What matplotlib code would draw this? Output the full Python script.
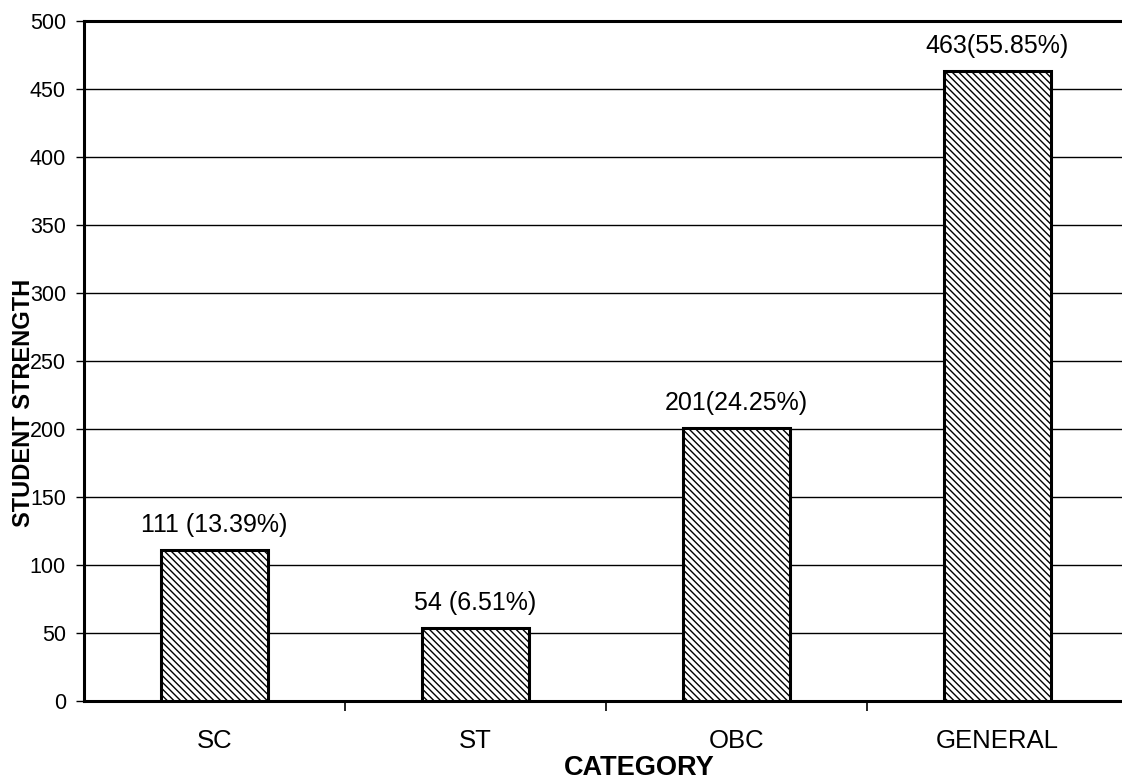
import matplotlib
matplotlib.use("Agg")
import matplotlib.pyplot as plt
import numpy as np

categories = ["SC", "ST", "OBC", "GENERAL"]
values = [111, 54, 201, 463]
labels = ["111 (13.39%)", "54 (6.51%)", "201(24.25%)", "463(55.85%)"]
yticks = [0, 50, 100, 150, 200, 250, 300, 350, 400, 450, 500]

plt.rcParams['font.family'] = ['Liberation Sans', 'DejaVu Sans']
plt.rcParams['hatch.linewidth'] = 1.0

fig = plt.figure(figsize=(11.22, 7.81), dpi=100)
ax = fig.add_axes([0.0749, 0.1024, 0.93, 0.871])

x = np.arange(len(categories))
bars = ax.bar(x, values, width=0.41, facecolor='white', edgecolor='black',
              linewidth=2.2, hatch='\\\\\\\\\\', zorder=3)
for xi, v, lab in zip(x, values, labels):
    ax.annotate(lab, (xi, v), xytext=(0, 18), textcoords='offset points',
                ha='center', va='center', fontsize=18)

ax.set_xlim(-0.5, len(categories) - 0.5)
ax.set_ylim(0, 500)
ax.set_yticks(yticks)
ax.set_xticks(x)
ax.set_xticklabels(categories, fontsize=18.5)
ax.set_xticks(np.arange(len(categories) - 1) + 0.5, minor=True)
ax.tick_params(axis='x', which='major', length=0, pad=20)
ax.tick_params(axis='x', which='minor', length=7, width=1.2, direction='out')
ax.tick_params(axis='y', labelsize=15.5, length=6, width=1.0, direction='out', pad=7)
ax.yaxis.grid(True, color='black', linewidth=1.0, zorder=0)
ax.set_axisbelow(True)

for s in ['left', 'bottom']:
    ax.spines[s].set_linewidth(2.2)
ax.spines['top'].set_linewidth(2.2)
ax.spines['right'].set_visible(False)

fig.text(0.021, 0.484, "STUDENT STRENGTH", rotation=90, ha='center', va='center',
         fontsize=17, fontweight='bold')
fig.text(0.570, 0.017, "CATEGORY", ha='center', va='center',
         fontsize=19.5, fontweight='bold')

fig.savefig("out.png", dpi=100)
